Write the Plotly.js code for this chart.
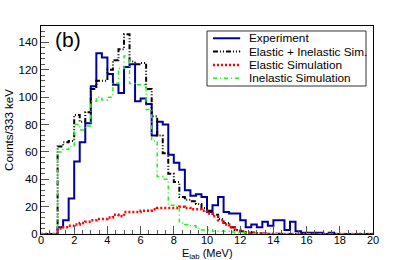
<!DOCTYPE html>
<html><head><meta charset="utf-8">
<script src="https://cdn.plot.ly/plotly-3.0.1.min.js"></script>
<style>html,body{margin:0;padding:0;background:#fff}#chart{width:415px;height:260px}</style>
</head><body><div id="chart"></div>
<script>
// Histogram bins: 60 bins of 333 keV from 0 to 20 MeV
const binWidthMeV = 1/3;
const experiment = [0,0,0,5,10,26,53,67,81,108, 132,129,117,109,103,122,124,97,99,95, 72,82,80,58,52,47,32,28,29,27, 16,21,27,16,15,15,10,5,7,5, 9,6,10,10,3,9,2,1,1,1, 1,0,1,0,0,0,0,0,0,0];
const elasticPlusInelastic = [0,0,0,64,67,68,87,82,89,106, 112,112,120,127,135,146,126,124,125,106, 86,72,59,44,38,27,25,24,22,19, 17,14,11,8,5,3,2,1.5,1,0.5, 0.3,0.2,0.2,0.1,0,0,0,0,0,0, 0,0,0,0,0,0,0,0,0,0];
const elasticSim = [0,0,0,4,5,6,7,8,9,10, 11,11,12,14,13,16,16,16,17,17, 18,19,19,19,19,20,19,18,18,17, 15,13,10,7,5,3,2,1,1,0.5, 0,0,0,0,0,0,0,0,0,0, 0,0,0,0,0,0,0,0,0,0];
const inelasticSim = [0,0,0,60,62,64,80,76,79,97, 100,98,100,110,121,130,110,109,109,91, 68,42,40,21,20,8,7,6,4,3, 3,2,2,2,1.5,1,1,0.5,0.3,0.3, 0.2,0.2,0.1,0,0,0,0,0,0,0, 0,0,0,0,0,0,0,0,0,0];
const seriesNames = ['Experiment','Elastic + Inelastic Sim.','Elastic Simulation','Inelastic Simulation'];
const xTickVals = [0,2,4,6,8,10,12,14,16,18,20];
const xTickText = ['0','2','4','6','8','10','12','14','16','18','20'];
const yTickVals = [0,20,40,60,80,100,120,140];
const yTickText = ['0','20','40','60','80','100','120','140'];
const xTitle = 'E<sub>lab</sub> (MeV)';
const yTitle = 'Counts/333 keV';

function edges(n){ const x=[]; for(let i=0;i<=n;i++) x.push(i*binWidthMeV); return x; }
function stepY(v){ return v.concat([v[v.length-1]]); }

const styles = [
  {color:'#00009c', width:2, dash:'solid'},
  {color:'#000000', width:2, dash:'5px,2px,1px,2px,1px,2px'},
  {color:'#ff0000', width:2.5, dash:'2px,2px'},
  {color:'#22ee22', width:1.5, dash:'4px,3px,1px,3px'}
];
const series = [experiment, elasticPlusInelastic, elasticSim, inelasticSim];
const font = 'Liberation Sans, Arial, Helvetica, sans-serif';

const traces = series.map((v,k)=>({
  type:'scatter', mode:'lines', name:seriesNames[k],
  x: edges(v.length), y: stepY(v),
  line:{shape:'hv', color:styles[k].color, width:styles[k].width, dash:styles[k].dash},
  hoverinfo:'skip'
}));

// Manual ROOT-style legend
const L = {x0:0.5, x1:0.979, y0:0.7115, y1:0.976, sx0:0.518, sx1:0.6, tx:0.6205, rows:[0.941,0.877,0.813,0.749]};
const shapes = [{type:'rect', xref:'paper', yref:'paper', x0:L.x0, x1:L.x1, y0:L.y0, y1:L.y1, line:{color:'#333', width:1}, fillcolor:'#fff', layer:'above'}];
const annotations = [
  {xref:'paper', yref:'paper', x:0.036, y:0.933, xanchor:'left', yanchor:'middle', text:'(b)', showarrow:false, font:{family:font, size:21, color:'#000'}},
  {xref:'paper', yref:'paper', x:0.5, y:-0.125, xanchor:'center', yanchor:'bottom', yshift:-2, borderpad:0, text:xTitle, showarrow:false, font:{family:font, size:11, color:'#000'}}
];
seriesNames.forEach((n,k)=>{
  shapes.push({type:'line', xref:'paper', yref:'paper', x0:L.sx0, x1:L.sx1, y0:L.rows[k], y1:L.rows[k], line:{color:styles[k].color, width:styles[k].width, dash:styles[k].dash}, layer:'above'});
  annotations.push({xref:'paper', yref:'paper', x:L.tx, y:L.rows[k], xanchor:'left', yanchor:'middle', text:n, showarrow:false, font:{family:font, size:11.8, color:'#000'}});
});

const layout = {
  width:415, height:260,
  margin:{l:41, r:42, t:26, b:26},
  paper_bgcolor:'#fff', plot_bgcolor:'#fff',
  showlegend:false,
  font:{family:font, size:11.5, color:'#000'},
  xaxis:{range:[0,20], tickmode:'array', tickvals:xTickVals, ticktext:xTickText,
    ticks:'inside', ticklen:8, tickwidth:1, tickcolor:'#555', ticklabelstandoff:-4,
    minor:{tickmode:'linear', tick0:0, dtick:0.5, ticks:'inside', ticklen:4, tickwidth:1, tickcolor:'#555'},
    showline:true, linecolor:'#000', linewidth:1, mirror:true, showgrid:false, zeroline:false,
    tickfont:{family:font, size:11}},
  yaxis:{range:[0,152], tickmode:'array', tickvals:yTickVals, ticktext:yTickText,
    ticks:'inside', ticklen:8, tickwidth:1, tickcolor:'#555',
    minor:{tickmode:'linear', tick0:0, dtick:4, ticks:'inside', ticklen:4, tickwidth:1, tickcolor:'#555'},
    showline:true, linecolor:'#000', linewidth:1, mirror:true, showgrid:false, zeroline:false,
    tickfont:{family:font, size:11.5},
    title:{text:yTitle, font:{family:font, size:11.5}, standoff:2}},
  shapes:shapes, annotations:annotations
};
Plotly.newPlot('chart', traces, layout, {staticPlot:true, displayModeBar:false});
</script></body></html>
